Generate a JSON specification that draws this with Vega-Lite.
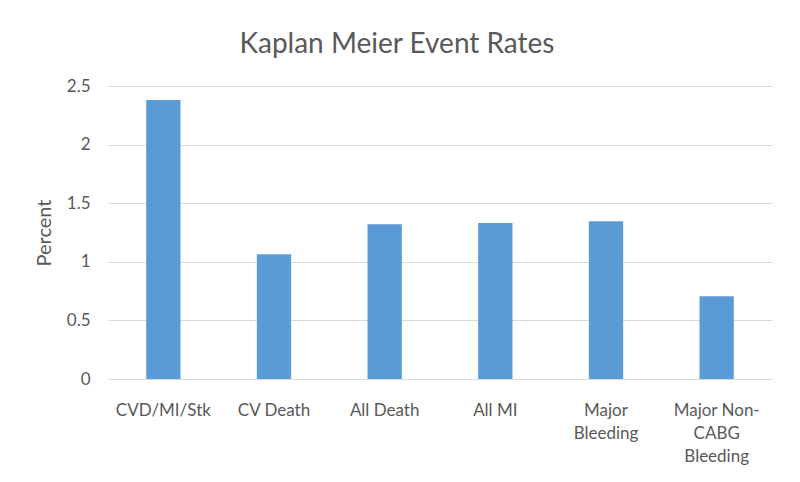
{
  "$schema": "https://vega.github.io/schema/vega-lite/v6.json",
  "width": 664,
  "height": 293,
  "autosize": {"type": "none"},
  "padding": {"left": 108, "top": 86, "right": 28, "bottom": 103},
  "background": "white",
  "title": {
    "text": "Kaplan Meier Event Rates",
    "font": "Lato",
    "fontSize": 28,
    "fontWeight": "normal",
    "color": "#595959",
    "anchor": "middle",
    "dx": -43,
    "offset": 18
  },
  "data": {
    "values": [
      {"outcome": "CVD/MI/Stk", "percent": 2.38},
      {"outcome": "CV Death", "percent": 1.065},
      {"outcome": "All Death", "percent": 1.32},
      {"outcome": "All MI", "percent": 1.33},
      {"outcome": "Major Bleeding", "percent": 1.345},
      {"outcome": "Major Non-CABG Bleeding", "percent": 0.705}
    ]
  },
  "mark": {"type": "bar", "color": "#5B9BD5"},
  "encoding": {
    "x": {
      "field": "outcome",
      "type": "nominal",
      "sort": null,
      "scale": {"paddingInner": 0.69, "paddingOuter": 0.345},
      "axis": {
        "title": null,
        "labelAngle": 0,
        "labelFont": "Lato",
        "labelFontSize": 17,
        "labelColor": "#595959",
        "labelPadding": 31,
        "labelLineHeight": 23,
        "labelBaseline": "middle",
        "ticks": false,
        "domainColor": "#D9D9D9",
        "labelExpr": "datum.label == 'Major Bleeding' ? ['Major', 'Bleeding'] : datum.label == 'Major Non-CABG Bleeding' ? ['Major Non-', 'CABG', 'Bleeding'] : datum.label"
      }
    },
    "y": {
      "field": "percent",
      "type": "quantitative",
      "scale": {"domain": [0, 2.5], "nice": false},
      "axis": {
        "title": "Percent",
        "titleFont": "Lato",
        "titleFontSize": 20,
        "titleFontWeight": "normal",
        "titleColor": "#595959",
        "titlePadding": 12,
        "values": [0, 0.5, 1, 1.5, 2, 2.5],
        "labelFont": "Lato",
        "labelFontSize": 17,
        "labelColor": "#595959",
        "labelPadding": 18,
        "ticks": false,
        "domain": false,
        "grid": true,
        "gridColor": "#D9D9D9",
        "format": "~g"
      }
    }
  },
  "config": {"view": {"stroke": null}}
}
